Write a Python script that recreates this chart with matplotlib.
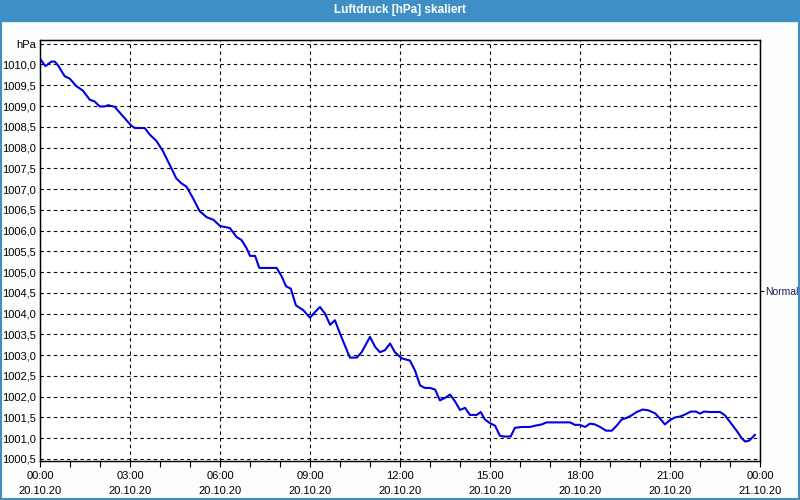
import matplotlib
matplotlib.use("Agg")
import matplotlib.pyplot as plt
from matplotlib.patches import Rectangle
import numpy as np

# hours since 20.10.20 00:00
hours = [0.02, 0.18, 0.38, 0.49, 0.6, 0.82, 0.99, 1.21, 1.43, 1.66, 1.82, 1.99,
         2.16, 2.27, 2.49, 2.77, 3.04, 3.16, 3.49, 3.66, 3.88, 4.1, 4.38, 4.54,
         4.71, 4.88, 5.1, 5.32, 5.56, 5.78, 6.0, 6.33, 6.56, 6.72, 6.89, 7.0,
         7.17, 7.31, 7.89, 8.06, 8.2, 8.36, 8.53, 8.78, 9.0, 9.17, 9.33, 9.5,
         9.67, 9.83, 10.0, 10.33, 10.56, 10.72, 11.0, 11.17, 11.33, 11.5, 11.67,
         11.83, 12.06, 12.33, 12.5, 12.67, 12.83, 13.0, 13.17, 13.33, 13.5,
         13.67, 13.83, 14.0, 14.17, 14.33, 14.56, 14.69, 14.83, 15.0, 15.17,
         15.33, 15.44, 15.69, 15.83, 16.06, 16.33, 16.5, 16.72, 16.89, 17.22,
         17.67, 17.83, 18.0, 18.17, 18.33, 18.5, 18.67, 18.87, 19.06, 19.22,
         19.39, 19.56, 19.72, 19.89, 20.09, 20.28, 20.5, 20.67, 20.83, 21.0,
         21.17, 21.33, 21.5, 21.69, 21.87, 22.0, 22.13, 22.33, 22.67, 22.83,
         23.0, 23.22, 23.39, 23.5, 23.64, 23.83]
pressure = [1010.12, 1009.96, 1010.07, 1010.07, 1009.98, 1009.72, 1009.66,
            1009.48, 1009.37, 1009.15, 1009.11, 1008.99, 1008.99, 1009.02,
            1008.98, 1008.75, 1008.53, 1008.47, 1008.47, 1008.31, 1008.16,
            1007.91, 1007.5, 1007.26, 1007.14, 1007.06, 1006.78, 1006.47,
            1006.32, 1006.26, 1006.11, 1006.06, 1005.84, 1005.77, 1005.57,
            1005.39, 1005.39, 1005.1, 1005.1, 1004.89, 1004.66, 1004.6, 1004.2,
            1004.08, 1003.9, 1004.04, 1004.16, 1004.0, 1003.73, 1003.84,
            1003.52, 1002.94, 1002.94, 1003.07, 1003.44, 1003.2, 1003.07,
            1003.12, 1003.28, 1003.07, 1002.92, 1002.87, 1002.63, 1002.27,
            1002.21, 1002.21, 1002.17, 1001.91, 1001.97, 1002.05, 1001.89,
            1001.68, 1001.73, 1001.56, 1001.56, 1001.63, 1001.45, 1001.36,
            1001.3, 1001.06, 1001.04, 1001.04, 1001.25, 1001.27, 1001.27,
            1001.3, 1001.33, 1001.38, 1001.38, 1001.38, 1001.32, 1001.32,
            1001.27, 1001.35, 1001.33, 1001.27, 1001.18, 1001.18, 1001.3,
            1001.45, 1001.49, 1001.55, 1001.63, 1001.69, 1001.67, 1001.6,
            1001.47, 1001.33, 1001.44, 1001.5, 1001.52, 1001.57, 1001.64,
            1001.64, 1001.59, 1001.64, 1001.63, 1001.63, 1001.55, 1001.39,
            1001.18, 1001.0, 1000.92, 1000.94, 1001.08]

x_ticks = [0, 3, 6, 9, 12, 15, 18, 21, 24]
x_labels = ["00:00\n20.10.20", "03:00\n20.10.20", "06:00\n20.10.20",
            "09:00\n20.10.20", "12:00\n20.10.20", "15:00\n20.10.20",
            "18:00\n20.10.20", "21:00\n20.10.20", "00:00\n21.10.20"]
y_ticks = [1000.5, 1001.0, 1001.5, 1002.0, 1002.5, 1003.0, 1003.5, 1004.0,
           1004.5, 1005.0, 1005.5, 1006.0, 1006.5, 1007.0, 1007.5, 1008.0,
           1008.5, 1009.0, 1009.5, 1010.0, 1010.5]
y_labels = [f"{v:.1f}".replace(".", ",") for v in y_ticks[:-1]] + ["hPa"]
normal_level = 1004.54

plt.rcParams['font.family'] = ['Liberation Sans', 'DejaVu Sans']

fig = plt.figure(figsize=(8, 5), dpi=100, facecolor="#fcfefc")
# title bar and window border
fig.patches.append(Rectangle((0, 0.958), 1, 0.042, transform=fig.transFigure,
                             color="#3d8fc6", zorder=0))
fig.patches.append(Rectangle((0.001, 0.002), 0.998, 0.996, transform=fig.transFigure,
                             fill=False, edgecolor="#3d8fc6", lw=1.5, zorder=0))
fig.text(0.5, 0.979, "Luftdruck [hPa] skaliert", color="white", fontsize=8.5,
         fontweight="bold", ha="center", va="center")

ax = fig.add_axes([0.05, 0.078, 0.90, 0.842])
ax.set_facecolor("white")
ax.plot(hours, pressure, color="#0000e6", lw=1.5, zorder=3)

ax.set_xlim(0, 24)
ax.set_ylim(1000.45, 1010.59)
ax.set_xticks(x_ticks, x_labels)
ax.set_xticks(np.arange(0, 25, 1), minor=True)
ax.set_yticks(y_ticks, y_labels)
ax.tick_params(axis="x", which="both", length=4, width=0.8, labelsize=8, pad=3)
ax.tick_params(axis="y", length=0, labelsize=8, pad=3)
for lbl in ax.get_xticklabels():
    lbl.set_linespacing(1.6)

ax.grid(True, color="black", linestyle=(0, (3, 3)), lw=0.8)
for s in ax.spines.values():
    s.set_linewidth(1.0)
    s.set_color("black")

ax2 = ax.twinx()
ax2.set_ylim(ax.get_ylim())
ax2.set_yticks([normal_level], ["Normal"])
ax2.tick_params(axis="y", length=3, width=0.8, labelsize=7.5, pad=0.5,
                labelcolor="#1c1c5a")

plt.savefig("out.png", dpi=100, facecolor=fig.get_facecolor())
